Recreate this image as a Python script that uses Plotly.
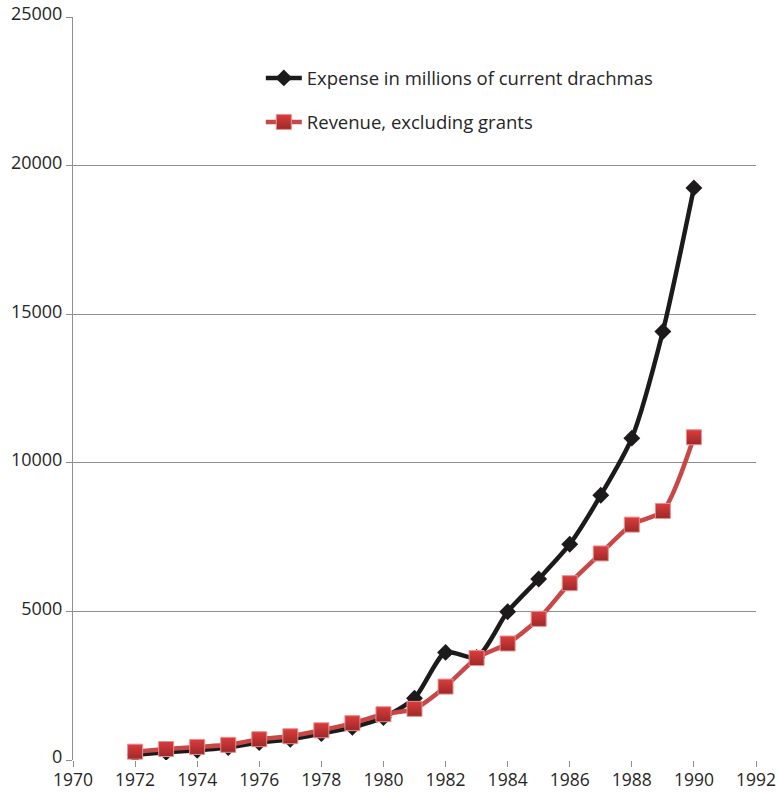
import plotly.graph_objects as go

years = list(range(1972, 1991))
expense = [180, 260, 330, 420, 590, 700, 890, 1100, 1430, 2080,
           3620, 3450, 4990, 6090, 7260, 8910, 10830, 14420, 19250]
revenue = [280, 370, 440, 510, 700, 800, 1000, 1240, 1540, 1720,
           2470, 3430, 3920, 4750, 5950, 6950, 7920, 8380, 10860]

x_ticks = list(range(1970, 1993, 2))
y_ticks = list(range(0, 25001, 5000))

FONT = "Open Sans"
TEXT = "#262626"
GRID = "#8e8e8e"

fig = go.Figure()

fig.add_trace(go.Scatter(
    x=years, y=expense, mode="lines+markers",
    name="Expense in millions of current drachmas",
    line=dict(color="#1c1a1a", width=4.5, shape="spline", smoothing=0.7),
    marker=dict(symbol="diamond", size=13, color="#1c1a1a"),
    legendgroup="a",
))
fig.add_trace(go.Scatter(
    x=years, y=revenue, mode="lines+markers",
    name="Revenue, excluding grants",
    line=dict(color="#c84848", width=4.5, shape="spline", smoothing=0.7),
    marker=dict(symbol="square", size=15, color="#dc3c3c",
                gradient=dict(type="vertical", color="#9e2828"),
                line=dict(color="#e89090", width=1)),
    legendgroup="b",
))

fig.update_layout(
    width=781, height=792,
    margin=dict(l=73, r=25, t=17, b=32),
    plot_bgcolor="white", paper_bgcolor="white",
    font=dict(family=FONT, size=18, color=TEXT),
    showlegend=True,
    legend=dict(x=0.275, y=0.943, xanchor="left", yanchor="top",
                bgcolor="rgba(0,0,0,0)", traceorder="grouped",
                itemwidth=36, tracegroupgap=17,
                font=dict(family=FONT, size=18.5, color=TEXT)),
    xaxis=dict(range=[1970, 1992], tickvals=x_ticks, showgrid=False,
               zeroline=False, showline=False, automargin=False,
               ticks="outside", ticklen=6, tickcolor=GRID, tickwidth=1,
               tickformat="d", ticklabelstandoff=-2,
               tickfont=dict(family=FONT, size=17.5, color=TEXT)),
    yaxis=dict(range=[0, 25000], tickvals=y_ticks, showgrid=True,
               gridcolor=GRID, gridwidth=1, zeroline=False,
               showline=True, linecolor=GRID, linewidth=1,
               automargin=False, tickformat="d", ticklabelshift=-3,
               ticks="outside", ticklen=6, tickcolor=GRID,
               tickfont=dict(family=FONT, size=18, color=TEXT)),
)

fig.write_html("out.html")
